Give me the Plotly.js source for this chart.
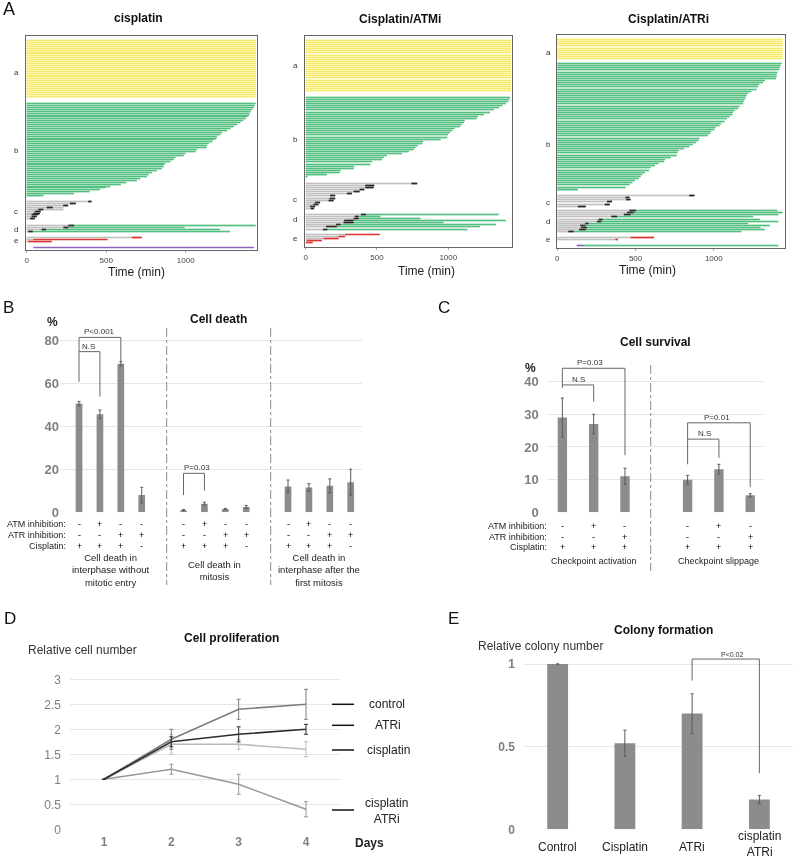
<!DOCTYPE html>
<html><head><meta charset="utf-8">
<script src="https://cdn.plot.ly/plotly-3.0.1.min.js"></script>
<style>html,body{margin:0;padding:0;background:#fff}#chart{width:794px;height:859px;will-change:transform}</style>
</head><body><div id="chart"></div>
<script>
// ================= DATA =================
const obsEnd = 1440; // full observation (min)
// ---- Panel A : single-cell fates (times in min) ----
// cisplatin
const cis_a_count = 30;
const cis_b_end = [1439,1434,1428,1418,1407,1403,1397,1386,1376,1361,1344,1323,1302,1281,1260,1229,1218,1197,1193,1176,1166,1145,1134,1130,1071,1061,998,987,935,924,903,872,861,861,851,819,788,767,756,714,693,626,592,525,494,462,395,298,105];
const cis_c = [[387,408,408],[272,309,309],[230,261,261],[126,164,231],[73,105,231],[52,88,88],[42,84,84],[31,73,73],[31,63,63],[21,52,52]];
const cis_d = [[262,298,1439],[231,262,993],[94,122,1214],[10,38,1277]];
const cis_e = [[661,724],[42,508],[10,158]];
const cis_f = [[42,1428,1428]];
// Cisplatin/ATMi
const atm_a_count = 25;
const atm_b_end = [1434,1427,1420,1403,1380,1357,1321,1293,1251,1209,1199,1115,1110,1094,1082,1044,1028,1012,997,993,946,824,817,786,770,758,723,676,570,547,535,465,453,340,336,246,237,148,12];
const atm_c = [[742,782,782],[418,481,481],[418,476,476],[378,411,411],[336,378,378],[289,324,324],[171,207,207],[167,207,207],[160,195,195],[66,101,101],[54,89,89],[31,66,66],[35,59,59]];
const atm_d = [[387,422,1352],[345,371,523],[336,371,805],[270,336,1403],[265,336,965],[213,245,1333],[143,218,1223],[120,152,1134]];
const atm_e = [[277,519],[230,277],[124,230],[7,113],[2,49]];
const atm_f = [];
// Cisplatin/ATRi
const atr_a_count = 10;
const atr_b_end = [1434,1427,1423,1418,1406,1401,1401,1397,1326,1315,1290,1283,1273,1240,1219,1208,1204,1197,1191,1187,1165,1155,1133,1122,1118,1101,1084,1069,1047,1037,1011,1004,983,976,961,908,903,886,865,843,811,775,768,762,725,689,682,646,624,597,586,560,543,532,521,496,479,461,436,131];
const atr_c = [[843,876,876],[436,461,461],[440,468,468],[318,350,350],[303,335,335],[131,182,182]];
const atr_d = [[461,504,1405],[446,489,1440],[425,468,1412],[345,382,1251],[264,290,1294],[253,281,1412],[178,200,1219],[146,178,1358],[152,189,1298],[139,182,1326],[70,105,1176]];
const atr_e = [[468,618],[371,388]];
const atr_f = [[124,170,1412]];
const fateTitles = ['cisplatin','Cisplatin/ATMi','Cisplatin/ATRi'];
const fateLetters = ['a','b','c','d','e'];

// ---- Panel B : cell death (%) ----
const deathGroups = ['Cell death in<br>interphase without<br>mitotic entry','Cell death in<br>mitosis','Cell death in<br>interphase after the<br>first mitosis'];
const deathVals = [[50.5,45.5,69,8],[1,4,1.5,2.5],[12,11.5,12.3,14]];
const deathErr  = [[1,2,1,3.6],[0.3,0.7,0.3,0.7],[3,1.8,3.2,6]];
const deathATM = ['-','+','-','-'];
const deathATR = ['-','-','+','+'];
const deathCis = ['+','+','+','-'];
const deathTicks = [0,20,40,60,80];

// ---- Panel C : cell survival (%) ----
const survGroups = ['Checkpoint activation','Checkpoint slippage'];
const survVals = [[29,27,11],[10,13.2,5.2]];
const survErr  = [[6,3,2.5],[1.3,1.5,0.5]];
const survATM = ['-','+','-'];
const survATR = ['-','-','+'];
const survCis = ['+','+','+'];
const survTicks = [0,10,20,30,40];

// ---- Panel D : cell proliferation ----
const days = [1,2,3,4];
const prolNames = ['control','ATRi','cisplatin','cisplatin<br>ATRi'];
const prolVals = [[1,1.8,2.4,2.5],[1,1.75,1.9,2.0],[1,1.7,1.7,1.6],[1,1.2,0.9,0.4]];
const prolErr  = [[0,0.2,0.2,0.3],[0,0.1,0.15,0.1],[0,0.2,0.1,0.15],[0,0.1,0.2,0.15]];
const prolTicks = [0,0.5,1,1.5,2,2.5,3];

// ---- Panel E : colony formation ----
const colonyCats = ['Control','Cisplatin','ATRi','cisplatin<br>ATRi'];
const colonyVals = [1.0,0.52,0.70,0.18];
const colonyErr  = [0,0.08,0.12,0.025];
const colonyTicks = [0,0.5,1];

// ================= LAYOUT HELPERS =================
const W=794, H=859;
const FONT='"Liberation Sans", Arial, sans-serif';
const fx=p=>p/W, fy=p=>1-p/H;
const traces=[], annotations=[], shapes=[];
function ann(text,x,y,o){
  o=o||{};
  const a={text:text,x:fx(x),y:fy(y),xref:'paper',yref:'paper',showarrow:false,xanchor:'center',yanchor:'middle',
    font:{family:FONT,size:9,color:'#222'}};
  for(const k in o){ if(k==='font') Object.assign(a.font,o.font); else a[k]=o[k]; }
  return a;
}
// main stroke colour and its soft halo (gives the striped look of the original rows)
const COL={yellow:'rgb(247,234,108)',green:'rgb(82,190,128)',gray:'rgb(192,192,192)',black:'rgb(40,40,40)',red:'rgb(222,52,52)',purple:'rgb(140,100,185)'};
const HALO={yellow:'rgb(250,241,150)',green:'rgb(138,212,168)',gray:'rgb(218,218,218)',black:'rgb(125,125,125)',red:'rgb(240,150,150)',purple:'rgb(200,180,225)'};
const ORDER=['yellow','green','gray','black','red','purple'];

// ---------- Panel A ----------
const fateData=[
 {a:cis_a_count,b:cis_b_end,c:cis_c,d:cis_d,e:cis_e,f:cis_f},
 {a:atm_a_count,b:atm_b_end,c:atm_c,d:atm_d,e:atm_e,f:atm_f},
 {a:atr_a_count,b:atr_b_end,c:atr_c,d:atr_d,e:atr_e,f:atr_f}];
const fateGeom=[
 {box:[26,257,36,250],range:[-4,1448],pitch:1.92,ya:40,yb:103,yc:201,yd:225,ye:237,yf:247,
  labX:16,lab:[72,150,211,229,240],title:[138,18],tt:[136,272]},
 {box:[305,512,36,247],range:[-5,1447],pitch:2.08,ya:40,yb:97,yc:183,yd:214,ye:234,yf:246,
  labX:295,lab:[65,139,199,220,238],title:[400,19],tt:[427,271]},
 {box:[557,785,35,248],range:[-2,1455],pitch:2.13,ya:39,yb:63,yc:195,yd:210,ye:237,yf:245,
  labX:548,lab:[53,144,202,222,239],title:[668,19],tt:[647,270]}];
const layoutAxes={};
fateData.forEach((s,k)=>{
  const g=fateGeom[k], n=k+1, xa='x'+(n>1?n:''), ya='y'+(n>1?n:'');
  const row=(start,i)=>Math.round(start+i*g.pitch)+0.5;
  const segs={yellow:[],green:[],gray:[],black:[],red:[],purple:[]};
  const add=(c,y,x0,x1)=>{ if(x1>x0) segs[c].push([x0,x1,y]); };
  for(let i=0;i<s.a;i++) add('yellow',row(g.ya,i),0,obsEnd);
  s.b.forEach((e,i)=>add('green',row(g.yb,i),0,e));
  s.c.forEach((r,i)=>{const y=row(g.yc,i); add('gray',y,0,r[0]); add('black',y,r[0],r[1]); add('gray',y,r[1],r[2]);});
  s.d.forEach((r,i)=>{const y=row(g.yd,i); add('gray',y,0,r[0]); add('black',y,r[0],r[1]); add('green',y,r[1],r[2]);});
  s.e.forEach((r,i)=>{const y=row(g.ye,i); add('gray',y,0,r[0]); add('red',y,r[0],r[1]);});
  s.f.forEach((r,i)=>{const y=row(g.yf,i); add('purple',y,r[0],r[1]); add('green',y,r[1],r[2]);});
  [[HALO,2.2],[COL,1.2]].forEach(layer=>{
    ORDER.forEach(c=>{
      if(!segs[c].length) return;
      const X=[],Y=[];
      segs[c].forEach(q=>{X.push(q[0],q[1],null);Y.push(q[2],q[2],null);});
      traces.push({type:'scatter',mode:'lines',x:X,y:Y,xaxis:xa,yaxis:ya,line:{color:layer[0][c],width:layer[1]},hoverinfo:'skip'});
    });
  });
  const b=g.box;
  layoutAxes['xaxis'+(n>1?n:'')]={domain:[fx(b[0]),fx(b[1])],range:g.range,anchor:ya,tickvals:[0,500,1000],
    tickfont:{size:8,color:'#444',family:FONT},ticks:'outside',ticklen:2,tickcolor:'#aaa',showgrid:false,zeroline:false,
    showline:true,mirror:true,linecolor:'#666',linewidth:1};
  layoutAxes['yaxis'+(n>1?n:'')]={domain:[fy(b[3]),fy(b[2])],range:[b[3],b[2]],anchor:xa,showticklabels:false,
    showgrid:false,zeroline:false,showline:true,mirror:true,linecolor:'#666',linewidth:1,ticks:''};
  annotations.push(ann('<b>'+fateTitles[k]+'</b>',g.title[0],g.title[1],{font:{size:12,color:'#111'}}));
  annotations.push(ann('Time (min)',g.tt[0],g.tt[1],{font:{size:12,color:'#222'}}));
  fateLetters.forEach((L,i)=>annotations.push(ann(L,g.labX,g.lab[i],{font:{size:8,color:'#333'}})));
});

// ---------- Panel B ----------
const BAR='rgb(140,140,140)', ERR='#5a5a5a';
(function(){
  const xs=[],ys=[],es=[];
  deathVals.forEach((grp,gi)=>grp.forEach((v,i)=>{xs.push(gi*5+i);ys.push(v);es.push(deathErr[gi][i]);}));
  traces.push({type:'bar',x:xs,y:ys,width:0.32,xaxis:'x4',yaxis:'y4',marker:{color:BAR},
    error_y:{type:'data',array:es,color:ERR,thickness:1,width:1.5},hoverinfo:'skip'});
  layoutAxes.xaxis4={domain:[fx(60),fx(362)],range:[-0.91,13.54],anchor:'y4',visible:false};
  layoutAxes.yaxis4={domain:[fy(512.3),fy(331.4)],range:[0,84],anchor:'x4',tickvals:deathTicks,
    tickfont:{size:13,color:'#7f7f7f',family:FONT,weight:'bold'},gridcolor:'#e6e6e6',zeroline:false,showline:false,ticks:''};
  annotations.push(ann('B',8,307,{font:{size:17,color:'#111'}}));
  annotations.push(ann('<b>%</b>',52,322,{font:{size:12,color:'#222'}}));
  annotations.push(ann('<b>Cell death</b>',218,319,{font:{size:12,color:'#111'}}));
  [['ATM inhibition:',524,deathATM],['ATR inhibition:',535,deathATR],['Cisplatin:',546,deathCis]].forEach(r=>{
    annotations.push(ann(r[0],68,r[1],{xanchor:'right'}));
    deathVals.forEach((grp,gi)=>grp.forEach((v,i)=>{
      const a=ann(r[2][i],0,r[1],{font:{color:'#000'}}); a.xref='x4'; a.x=gi*5+i; annotations.push(a);
    }));
  });
  deathGroups.forEach((t,gi)=>{const a=ann(t,0,570,{font:{size:9.5}}); a.xref='x4'; a.x=gi*5+1.5; annotations.push(a);});
  [166.7,270.7].forEach(x=>shapes.push({type:'line',xref:'paper',yref:'paper',x0:fx(x),x1:fx(x),y0:fy(328),y1:fy(585),
    line:{color:'#8a8a8a',width:1,dash:'dashdot'}}));
  const br=(p)=>shapes.push({type:'path',xref:'x4',yref:'y4',path:p,line:{color:'#666',width:1}});
  br('M0,60.6 L0,81.2 L2,81.2 L2,69.9');
  br('M0,74.6 L1,74.6 L1,53.7');
  br('M5,8 L5,18.1 L6,18.1 L6,10');
  const bt=(t,x,y)=>annotations.push({text:t,x:x,y:y,xref:'x4',yref:'y4',showarrow:false,xanchor:'center',yanchor:'bottom',
    yshift:-1,font:{family:FONT,size:8,color:'#333'}});
  bt('P<0.001',1,81.2); bt('N.S',0.45,74.6); bt('P=0.03',5.63,18.1);
})();

// ---------- Panel C ----------
(function(){
  const xs=[],ys=[],es=[];
  survVals.forEach((grp,gi)=>grp.forEach((v,i)=>{xs.push(gi*4+i);ys.push(v);es.push(survErr[gi][i]);}));
  traces.push({type:'bar',x:xs,y:ys,width:0.3,xaxis:'x5',yaxis:'y5',marker:{color:BAR},
    error_y:{type:'data',array:es,color:ERR,thickness:1,width:1.5},hoverinfo:'skip'});
  layoutAxes.xaxis5={domain:[fx(546.7),fx(764)],range:[-0.5,6.44],anchor:'y5',visible:false};
  layoutAxes.yaxis5={domain:[fy(512.3),fy(358.8)],range:[0,47],anchor:'x5',tickvals:survTicks,
    tickfont:{size:13,color:'#7f7f7f',family:FONT,weight:'bold'},gridcolor:'#e6e6e6',zeroline:false,showline:false,ticks:'',ticklabelstandoff:7};
  annotations.push(ann('C',444,307.5,{font:{size:17,color:'#111'}}));
  annotations.push(ann('<b>%</b>',530,368,{font:{size:12,color:'#222'}}));
  annotations.push(ann('<b>Cell survival</b>',655,342,{font:{size:12,color:'#111'}}));
  [['ATM inhibition:',525.7,survATM],['ATR inhibition:',536.7,survATR],['Cisplatin:',547.3,survCis]].forEach(r=>{
    annotations.push(ann(r[0],549,r[1],{xanchor:'right'}));
    survVals.forEach((grp,gi)=>grp.forEach((v,i)=>{
      const a=ann(r[2][i],0,r[1],{font:{color:'#000'}}); a.xref='x5'; a.x=gi*4+i; annotations.push(a);
    }));
  });
  survGroups.forEach((t,gi)=>{const a=ann(t,0,561,{font:{size:9}}); a.xref='x5'; a.x=gi*4+1; annotations.push(a);});
  shapes.push({type:'line',xref:'paper',yref:'paper',x0:fx(650.7),x1:fx(650.7),y0:fy(365),y1:fy(571),
    line:{color:'#8a8a8a',width:1,dash:'dashdot'}});
  const br=(p)=>shapes.push({type:'path',xref:'x5',yref:'y5',path:p,line:{color:'#666',width:1}});
  br('M0,38 L0,44.1 L2,44.1 L2,17.5');
  br('M0,39 L1,39 L1,33.9');
  br('M4,14.7 L4,27.4 L6,27.4 L6,7.7');
  br('M4,22.4 L5,22.4 L5,16.7');
  const bt=(t,x,y)=>annotations.push({text:t,x:x,y:y,xref:'x5',yref:'y5',showarrow:false,xanchor:'center',yanchor:'bottom',
    yshift:-1,font:{family:FONT,size:8,color:'#333'}});
  bt('P=0.03',0.88,44.1); bt('N.S',0.51,39); bt('P=0.01',4.93,27.4); bt('N.S',4.53,22.4);
})();

// ---------- Panel D ----------
(function(){
  const lc=['rgb(125,125,125)','rgb(45,45,45)','rgb(185,185,185)','rgb(152,152,152)'];
  const order=[2,3,0,1];
  order.forEach(k=>{
    traces.push({type:'scatter',mode:'lines',x:days,y:prolVals[k],xaxis:'x6',yaxis:'y6',line:{color:lc[k],width:1.6},
      error_y:{type:'data',array:prolErr[k],color:lc[k],thickness:1,width:2},hoverinfo:'skip'});
  });
  layoutAxes.xaxis6={domain:[fx(70),fx(340)],range:[0.495,4.505],anchor:'y6',tickvals:days,
    tickfont:{size:12,color:'#7f7f7f',family:FONT,weight:'bold'},showgrid:false,zeroline:false,showline:false,ticks:'',ticklabelstandoff:4};
  layoutAxes.yaxis6={domain:[fy(829.3),fy(676.8)],range:[0,3.05],anchor:'x6',tickvals:prolTicks,
    tickfont:{size:12,color:'#7f7f7f',family:FONT},gridcolor:'#e6e6e6',zeroline:false,showline:false,ticks:'',ticklabelstandoff:8};
  annotations.push(ann('D',9.5,618.5,{font:{size:17,color:'#111'}}));
  annotations.push(ann('<b>Cell proliferation</b>',231,638,{font:{size:12,color:'#111'}}));
  annotations.push(ann('Relative cell number',26,650,{xanchor:'left',font:{size:12,color:'#333'}}));
  annotations.push(ann('<b>Days</b>',369,843,{font:{size:12,color:'#222'}}));
  const legY=[704.3,725.3,750,810];
  const legLab=[[367,704,'left'],[373,725,'left'],[365,750,'left'],[386,811,'center']];
  prolNames.forEach((nm,k)=>{
    shapes.push({type:'line',xref:'paper',yref:'paper',x0:fx(332),x1:fx(354),y0:fy(legY[k]),y1:fy(legY[k]),line:{color:'#111',width:1.5}});
    annotations.push(ann(nm,legLab[k][0],legLab[k][1],{xanchor:legLab[k][2],align:'center',font:{size:12,color:'#222'}}));
  });
})();

// ---------- Panel E ----------
(function(){
  const xs=colonyCats.map((c,i)=>i);
  traces.push({type:'bar',x:xs,y:colonyVals,width:0.31,xaxis:'x7',yaxis:'y7',marker:{color:BAR},
    error_y:{type:'data',array:colonyErr,color:ERR,thickness:1,width:1.5},hoverinfo:'skip'});
  layoutAxes.xaxis7={domain:[fx(524),fx(793)],range:[-0.5,3.5],anchor:'y7',visible:false};
  layoutAxes.yaxis7={domain:[fy(829.3),fy(650.8)],range:[0,1.08],anchor:'x7',tickvals:colonyTicks,
    tickfont:{size:12,color:'#7f7f7f',family:FONT,weight:'bold'},gridcolor:'#e6e6e6',zeroline:false,showline:false,ticks:'',ticklabelstandoff:8};
  annotations.push(ann('E',453,618.5,{font:{size:17,color:'#111'}}));
  annotations.push(ann('<b>Colony formation</b>',663,630,{font:{size:12,color:'#111'}}));
  annotations.push(ann('Relative colony number',476,646,{xanchor:'left',font:{size:12,color:'#333'}}));
  colonyCats.forEach((c,i)=>{const a=ann(c,0,i===3?844:847,{font:{size:12,color:'#222'}}); a.xref='x7'; a.x=i; annotations.push(a);});
  shapes.push({type:'path',xref:'x7',yref:'y7',path:'M2,0.90 L2,1.03 L3,1.03 L3,0.34',line:{color:'#666',width:1}});
  annotations.push({text:'P<0.02',x:2.6,y:1.03,xref:'x7',yref:'y7',showarrow:false,xanchor:'center',yanchor:'bottom',
    yshift:-1,font:{family:FONT,size:7,color:'#333'}});
})();

annotations.push(ann('A',8.5,9,{font:{size:18,color:'#111'}}));

const layout=Object.assign({width:W,height:H,margin:{l:0,r:0,t:0,b:0},paper_bgcolor:'#fff',plot_bgcolor:'rgba(0,0,0,0)',
  showlegend:false,font:{family:FONT},annotations:annotations,shapes:shapes},layoutAxes);
Plotly.newPlot('chart',traces,layout,{staticPlot:true,displayModeBar:false});
</script></body></html>
